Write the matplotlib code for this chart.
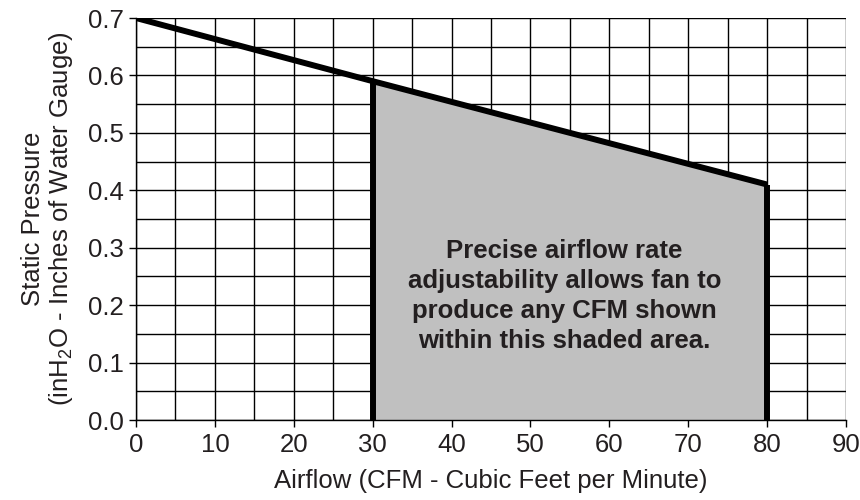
import matplotlib
matplotlib.use("Agg")
import matplotlib.pyplot as plt
from matplotlib.ticker import MultipleLocator

plt.rcParams['font.family'] = ['Liberation Sans', 'DejaVu Sans']
plt.rcParams['mathtext.fontset'] = 'custom'
plt.rcParams['mathtext.rm'] = 'Liberation Sans'
plt.rcParams['mathtext.it'] = 'Liberation Sans'

# Data
curve_x = [0, 30, 80]
curve_y = [0.70, 0.59, 0.41]
shade_x = [30, 80]
shade_top = [0.59, 0.41]
x_ticks = [0, 10, 20, 30, 40, 50, 60, 70, 80, 90]
y_ticks = [0.0, 0.1, 0.2, 0.3, 0.4, 0.5, 0.6, 0.7]
annotation = "Precise airflow rate\nadjustability allows fan to\nproduce any CFM shown\nwithin this shaded area."

text_color = '#231f20'

fig = plt.figure(figsize=(8.6, 5.0), dpi=100)
ax = fig.add_axes([136/860, 1 - 420/500, (846-136)/860, (420-18)/500])

ax.set_xlim(0, 90)
ax.set_ylim(0, 0.7)

ax.xaxis.set_major_locator(MultipleLocator(10))
ax.xaxis.set_minor_locator(MultipleLocator(5))
ax.yaxis.set_major_locator(MultipleLocator(0.1))
ax.yaxis.set_minor_locator(MultipleLocator(0.05))
ax.grid(True, which='both', color='black', linewidth=1.0, zorder=0)
ax.set_axisbelow(True)

ax.fill_between(shade_x, 0, shade_top, color='#c0c0c0', zorder=2, linewidth=0)
ax.plot(curve_x, curve_y, color='black', linewidth=4.3, zorder=4, solid_capstyle='butt')
ax.plot([shade_x[0], shade_x[0]], [0, shade_top[0]], color='black', linewidth=4.3, zorder=4, solid_capstyle='butt')
ax.plot([shade_x[1], shade_x[1]], [0, shade_top[1]], color='black', linewidth=4.3, zorder=4, solid_capstyle='butt')

ax.set_xticks(x_ticks)
ax.set_xticklabels([str(v) for v in x_ticks])
ax.set_yticks(y_ticks)
ax.set_yticklabels([f"{v:.1f}" for v in y_ticks])
ax.tick_params(which='major', direction='out', length=5, width=1, labelsize=18.5,
               labelcolor=text_color, color='black', pad=4)
ax.tick_params(which='minor', length=0)

for s in ['top', 'right']:
    ax.spines[s].set_visible(False)
for s in ['left', 'bottom']:
    ax.spines[s].set_linewidth(1)

ax.set_xlabel("Airflow (CFM - Cubic Feet per Minute)", fontsize=18.5, color=text_color, labelpad=9)
ax.set_ylabel("Static Pressure\n(inH$_2$O - Inches of Water Gauge)", fontsize=18.5,
              color=text_color, labelpad=9, linespacing=1.1)

ax.text(54.3, 0.216, annotation, ha='center', va='center', fontsize=18.5, fontweight='bold',
        color=text_color, linespacing=1.32, zorder=5)

fig.savefig("out.png", dpi=100)
